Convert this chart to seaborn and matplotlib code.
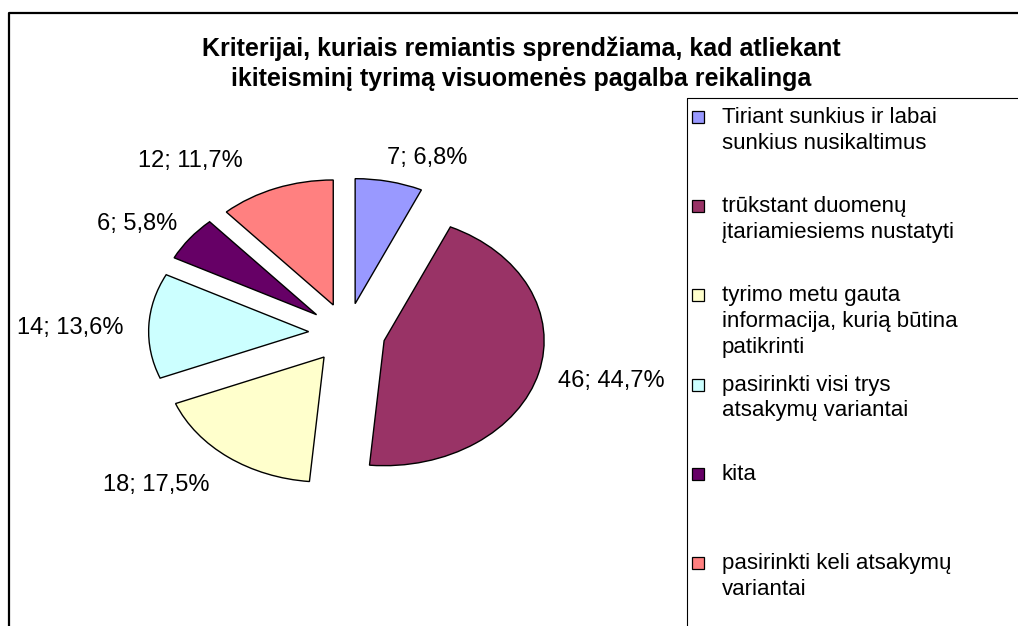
import matplotlib.pyplot as plt
import seaborn as sns
from matplotlib.patches import Rectangle

# data
categories = [
    "Tiriant sunkius ir labai\nsunkius nusikaltimus",
    "trūkstant duomenų\nįtariamiesiems nustatyti",
    "tyrimo metu gauta\ninformacija, kurią būtina\npatikrinti",
    "pasirinkti visi trys\natsakymų variantai",
    "kita",
    "pasirinkti keli atsakymų\nvariantai",
]
counts = [7, 46, 18, 14, 6, 12]
percents = ["6,8", "44,7", "17,5", "13,6", "5,8", "11,7"]
colors = ["#9999FF", "#993366", "#FFFFCC", "#CCFFFF", "#660066", "#FF8080"]

# where the value labels sit (pie units)
label_pos = [(0.50, 1.40), (1.65, -0.38), (-1.19, -1.22),
             (-1.73, 0.04), (-1.31, 0.87), (-0.98, 1.38)]

sns.set_style("white")
plt.rcParams["font.family"] = ["Liberation Sans", "DejaVu Sans"]
plt.rcParams["text.color"] = "black"

W, H = 1018, 626
fig = plt.figure(figsize=(W / 100, H / 100), dpi=100)

# background layer in pixel coordinates for frames and legend
ov = fig.add_axes([0, 0, 1, 1])
ov.set_xlim(0, W)
ov.set_ylim(H, 0)
ov.axis("off")
ov.plot([9, 9, W + 5], [H + 5, 12.5, 12.5], color="black", lw=1.6)
ov.plot([687, 687, W + 5], [H + 5, 98, 98], color="black", lw=0.8)

palette = sns.color_palette(colors)

# pie axes: 160 px per unit horizontally, 125 px vertically
cx, cy = 347, 333
ax = fig.add_axes([(cx - 240) / W, (H - cy - 187.5) / H, 480 / W, 375 / H])
ax.pie(counts, colors=palette, startangle=90, counterclock=False,
       explode=[0.24] * len(counts),
       wedgeprops=dict(edgecolor="black", linewidth=1.0))
ax.set_aspect("auto")
ax.set_xlim(-1.5, 1.5)
ax.set_ylim(-1.5, 1.5)
ax.axis("off")

for (x, y), c, p in zip(label_pos, counts, percents):
    ax.text(x, y, f"{c}; {p}%", ha="center", va="center", fontsize=17)

fig.text(521 / W, 1 - 64 / H,
         "Kriterijai, kuriais remiantis sprendžiama, kad atliekant\n"
         "ikiteisminį tyrimą visuomenės pagalba reikalinga",
         ha="center", va="center", fontsize=18, fontweight="bold",
         linespacing=1.3)

# legend drawn as in the original: evenly spaced entries
for i, (lab, col) in enumerate(zip(categories, palette)):
    yc = 117 + 89.2 * i
    ov.add_patch(Rectangle((692, yc - 6), 12, 12, facecolor=col,
                           edgecolor="black", lw=0.9))
    ov.text(722, yc - 10, lab, ha="left", va="top", fontsize=16,
            linespacing=1.3)

fig.savefig("out.png", dpi=100)
